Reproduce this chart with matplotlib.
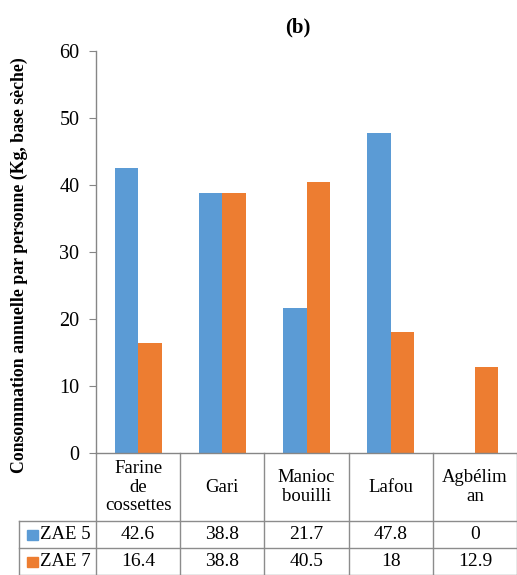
import matplotlib.pyplot as plt
import numpy as np
from matplotlib.lines import Line2D
from matplotlib.patches import Rectangle

categories = ['Farine\nde\ncossettes', 'Gari', 'Manioc\nbouilli', 'Lafou', 'Agbélim\nan']
series_names = ['ZAE 5', 'ZAE 7']
zae5 = [42.6, 38.8, 21.7, 47.8, 0]
zae7 = [16.4, 38.8, 40.5, 18, 12.9]
zae5_txt = ['42.6', '38.8', '21.7', '47.8', '0']
zae7_txt = ['16.4', '38.8', '40.5', '18', '12.9']
colors = ['#5B9BD5', '#ED7D31']

plt.rcParams['font.family'] = ['Liberation Serif', 'DejaVu Serif']

W, H = 517, 575
fig = plt.figure(figsize=(W / 100, H / 100), dpi=100)
x0, x1, y0, y1 = 96, 517, 453, 51
ax = fig.add_axes([x0 / W, (H - y0) / H, (x1 - x0) / W, (y0 - y1) / H])

x = np.arange(len(categories))
bw = 0.28
ax.bar(x - bw / 2, zae5, bw, color=colors[0])
ax.bar(x + bw / 2, zae7, bw, color=colors[1])

ax.set_xlim(-0.5, len(categories) - 0.5)
ax.set_ylim(0, 60)
ax.set_yticks(range(0, 61, 10))
ax.tick_params(axis='y', labelsize=14.5, length=5, color='#868686', pad=7)
ax.set_xticks([])
for s in ['top', 'right']:
    ax.spines[s].set_visible(False)
for s in ['left', 'bottom']:
    ax.spines[s].set_color('#868686')
    ax.spines[s].set_linewidth(1)

ax.set_ylabel('Consommation annuelle par personne (Kg, base sèche)',
              fontsize=12.8, fontweight='bold')
ax.yaxis.set_label_coords(-0.162, 0.468)
fig.text(298 / W, 1 - 27 / H, '(b)', ha='center', va='center',
         fontsize=15, fontweight='bold')

# data table below the axis
ppx = (x1 - x0) / len(categories)
def fy(py):
    return (y0 - py) / (y0 - y1)
tr = ax.get_xaxis_transform()
lc = '#8c8c8c'
left_col = -0.5 - (x0 - 19) / ppx
row_y = [453, 521, 548, 575]
# horizontal lines
for py in row_y[1:]:
    ax.add_line(Line2D([left_col, len(categories) - 0.5], [fy(py), fy(py)],
                       transform=tr, color=lc, lw=1, clip_on=False))
# vertical lines
for b in np.arange(len(categories) + 1) - 0.5:
    ax.add_line(Line2D([b, b], [fy(453), fy(575)], transform=tr,
                       color=lc, lw=1, clip_on=False))
ax.add_line(Line2D([left_col, left_col], [fy(521), fy(575)], transform=tr,
                   color=lc, lw=1, clip_on=False))

for i, c in enumerate(categories):
    ax.text(i, fy(487), c, transform=tr, ha='center', va='center',
            fontsize=13.5, linespacing=1.12, clip_on=False)
rows = [zae5_txt, zae7_txt]
for r, (name, vals) in enumerate(zip(series_names, rows)):
    yc = fy((row_y[r + 1] + row_y[r + 2]) / 2)
    ax.add_patch(Rectangle((left_col + 8 / ppx, yc - 5 / (y0 - y1)), 11 / ppx, 10 / (y0 - y1),
                           transform=tr, color=colors[r], clip_on=False))
    ax.text(left_col + 21 / ppx, yc, name, transform=tr, ha='left', va='center',
            fontsize=13.5, clip_on=False)
    for i, v in enumerate(vals):
        ax.text(i, yc, v, transform=tr, ha='center', va='center',
                fontsize=14, clip_on=False)

fig.savefig('out.png', dpi=100)
